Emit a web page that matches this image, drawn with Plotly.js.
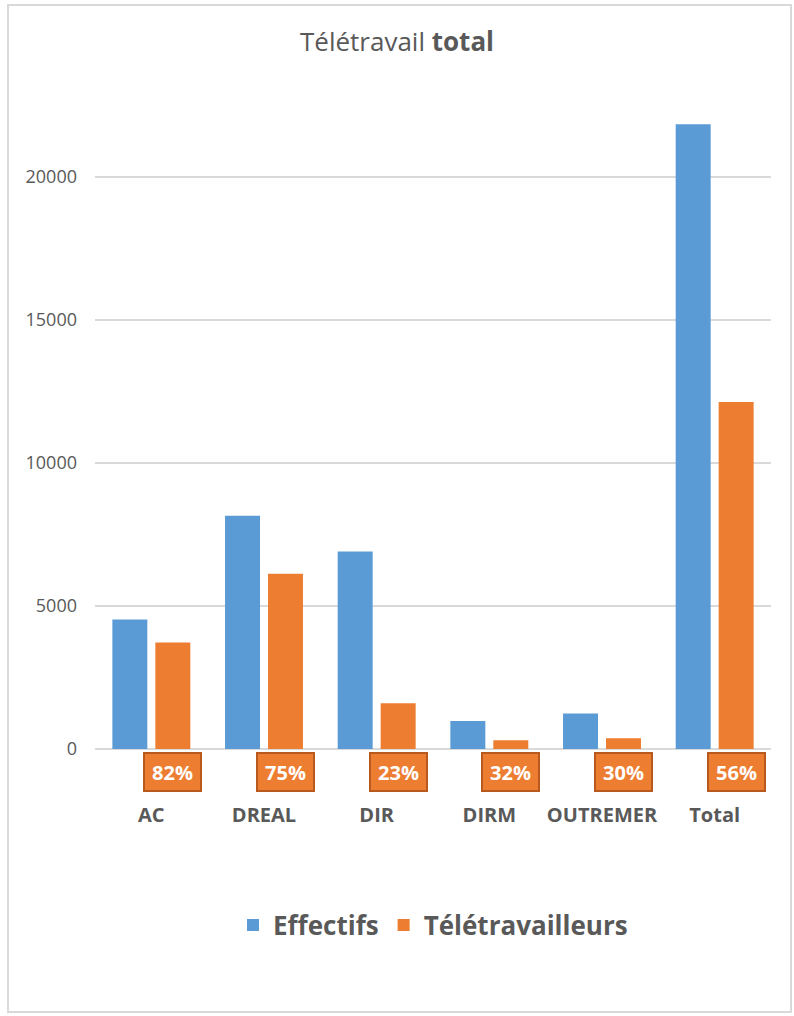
<!DOCTYPE html>
<html>
<head>
<meta charset="utf-8">
<script src="https://cdn.plot.ly/plotly-3.0.1.min.js"></script>
<style>
  html, body { margin: 0; padding: 0; background: #fff; }
  #chart { width: 794px; height: 1016px; }
</style>
</head>
<body>
<div id="chart"></div>
<script>
const categories = ['AC', 'DREAL', 'DIR', 'DIRM', 'OUTREMER', 'Total'];
const effectifs = [4530, 8150, 6900, 975, 1240, 21840];
const teletravailleurs = [3720, 6130, 1600, 305, 372, 12130];
const percentLabels = ['82%', '75%', '23%', '32%', '30%', '56%'];
const yTickValues = [0, 5000, 10000, 15000, 20000];
const yTickLabels = ['0', '5000', '10000', '15000', '20000'];

const gray = '#595959';
const fontFam = '"Open Sans", "Noto Sans", sans-serif';

const traces = [
  { type: 'bar', name: 'Effectifs', x: categories, y: effectifs,
    marker: { color: '#5B9BD5' }, hoverinfo: 'x+y' },
  { type: 'bar', name: 'Télétravailleurs', x: categories, y: teletravailleurs,
    marker: { color: '#ED7D31' }, hoverinfo: 'x+y' }
];

const annotations = categories.map((c, i) => ({
  x: c, xref: 'x', xshift: 21.5,
  y: -0.035, yref: 'paper', yanchor: 'middle', xanchor: 'center',
  text: '<b>' + percentLabels[i] + '</b>',
  showarrow: false,
  font: { family: fontFam, size: 20, color: '#ffffff' },
  bgcolor: '#ED7D31', bordercolor: '#B85A1E', borderwidth: 2, borderpad: 0,
  width: 55, height: 36
}));

const layout = {
  width: 794, height: 1016,
  paper_bgcolor: '#ffffff', plot_bgcolor: '#ffffff',
  font: { family: fontFam, color: gray },
  title: { text: 'Télétravail <b>total</b>', x: 0.5, xanchor: 'center',
           y: 1 - 42/1016, yanchor: 'middle', yref: 'container',
           font: { family: fontFam, size: 26, color: gray } },
  margin: { l: 95, r: 23, t: 91, b: 267 },
  bargap: 0.237, bargroupgap: 0.186, barmode: 'group',
  xaxis: { type: 'category', showgrid: false, zeroline: false, showline: false,
           ticks: '', ticklabelstandoff: 52,
           tickfont: { family: fontFam, size: 20, color: gray, weight: 'bold' } },
  yaxis: { range: [0, 23000], tickvals: yTickValues, ticktext: yTickLabels,
           showgrid: true, gridcolor: '#D9D9D9', gridwidth: 1.5,
           zeroline: true, zerolinecolor: '#D9D9D9', zerolinewidth: 2,
           showline: false, ticks: '', ticklabelstandoff: 17,
           tickfont: { family: fontFam, size: 18, color: gray } },
  showlegend: true,
  legend: { orientation: 'h', x: 0.5, xanchor: 'center', y: 1 - 925/1016, yref: 'container',
            yanchor: 'middle', font: { family: fontFam, size: 26, color: gray, weight: 'bold' },
            itemwidth: 30, traceorder: 'normal' },
  annotations: annotations,
  shapes: [{ type: 'rect', xref: 'paper', yref: 'paper',
             x0: (8 - 95) / 676, x1: (791 - 95) / 676,
             y0: (749 - 1012) / 658, y1: (749 - 5) / 658,
             line: { color: '#D9D9D9', width: 2 }, fillcolor: 'rgba(0,0,0,0)', layer: 'below' }]
};

Plotly.newPlot('chart', traces, layout, { displayModeBar: false, staticPlot: true });
</script>
</body>
</html>
